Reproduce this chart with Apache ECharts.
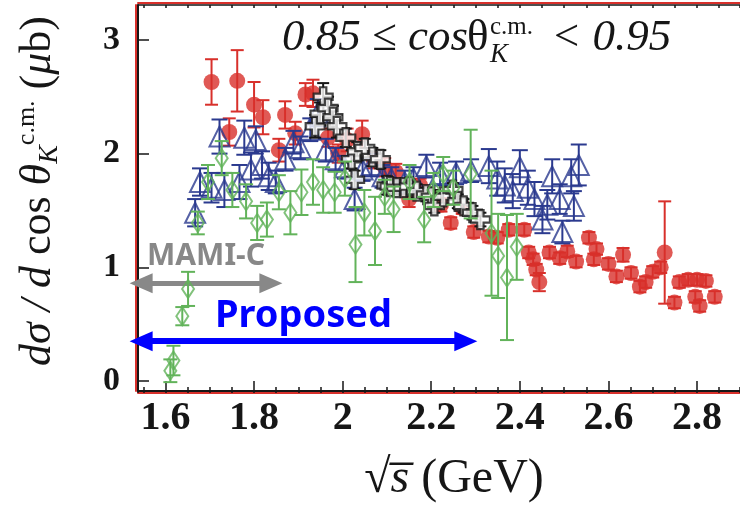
<!DOCTYPE html>
<html><head><meta charset="utf-8">
<script src="https://cdn.jsdelivr.net/npm/echarts@6/dist/echarts.min.js"></script>
<style>html,body{margin:0;background:#fff}#c{width:740px;height:508px}</style>
</head><body><div id="c"></div><script>
// ---- data ----
const xTickLabels = ['1.6','1.8','2','2.2','2.4','2.6','2.8'];
const yTickLabels = ['0','1','2','3'];
// [sqrt(s), dsigma, error]
const redPoints = [[1.704,2.63,0.2],[1.744,2.19,0.12],[1.762,2.64,0.27],[1.80,2.43,0.2],[1.82,2.32,0.15],[1.856,2.03,0.1],[1.87,2.34,0.12],[1.893,2.18,0.1],[1.916,2.52,0.1],[1.933,2.53,0.12],[1.967,2.14,0.08],[1.99,2.0,0.08],[2.01,2.12,0.1],[2.044,2.17,0.12],[2.07,1.95,0.08],[2.095,1.88,0.08],[2.12,1.84,0.07],[2.15,1.60,0.07],[2.175,1.72,0.06],[2.2,1.62,0.06],[2.222,1.55,0.06],[2.244,1.39,0.05],[2.27,1.52,0.05],[2.296,1.31,0.05],[2.33,1.27,0.05],[2.349,1.26,0.05],[2.375,1.33,0.05],[2.41,1.33,0.05],[2.42,1.13,0.05],[2.43,1.07,0.05],[2.437,0.98,0.05],[2.444,0.87,0.08],[2.467,1.13,0.05],[2.49,1.08,0.05],[2.507,1.14,0.05],[2.527,1.05,0.05],[2.556,1.26,0.05],[2.567,1.07,0.05],[2.573,1.16,0.05],[2.60,1.03,0.05],[2.618,0.92,0.05],[2.633,1.11,0.06],[2.651,0.95,0.05],[2.671,0.83,0.05],[2.684,0.87,0.05],[2.70,0.96,0.05],[2.718,1.0,0.05],[2.727,1.13,0.45],[2.749,0.69,0.05],[2.76,0.87,0.05],[2.78,0.89,0.05],[2.80,0.89,0.05],[2.796,0.74,0.05],[2.806,0.66,0.05],[2.82,0.88,0.05],[2.84,0.74,0.05]];
const bluePoints = [[1.667,1.48,0.12],[1.678,1.75,0.12],[1.704,1.70,0.13],[1.722,2.15,0.15],[1.733,1.68,0.15],[1.767,1.75,0.15],[1.778,2.14,0.15],[1.793,1.86,0.15],[1.804,2.12,0.12],[1.818,1.90,0.12],[1.833,1.80,0.12],[1.849,1.75,0.1],[1.871,1.95,0.1],[1.889,2.10,0.1],[1.905,2.05,0.1],[1.927,2.21,0.1],[1.944,2.36,0.12],[1.962,2.03,0.1],[1.984,1.95,0.1],[2.005,1.88,0.1],[2.027,1.60,0.1],[2.045,1.86,0.1],[2.065,1.90,0.1],[2.09,1.80,0.1],[2.11,1.78,0.1],[2.14,1.75,0.1],[2.16,1.78,0.1],[2.189,1.89,0.1],[2.22,1.82,0.1],[2.256,1.83,0.1],[2.29,1.85,0.1],[2.33,1.89,0.15],[2.349,1.78,0.15],[2.366,1.72,0.15],[2.384,1.67,0.15],[2.40,1.88,0.15],[2.418,1.70,0.15],[2.433,1.60,0.15],[2.451,1.42,0.12],[2.462,1.55,0.13],[2.473,1.80,0.15],[2.49,1.60,0.13],[2.496,1.31,0.1],[2.516,1.80,0.15],[2.522,1.54,0.13],[2.533,1.90,0.18]];
const blackPoints = [[1.938,2.24,0.1],[1.949,2.35,0.1],[1.956,2.50,0.12],[1.967,2.40,0.1],[1.978,2.32,0.1],[1.987,2.24,0.1],[2.007,2.14,0.08],[2.02,1.95,0.08],[2.027,1.77,0.08],[2.033,2.02,0.08],[2.05,2.05,0.08],[2.067,1.97,0.08],[2.085,1.95,0.08],[2.1,1.72,0.08],[2.107,1.71,0.06],[2.122,1.70,0.06],[2.138,1.70,0.06],[2.151,1.71,0.06],[2.167,1.67,0.06],[2.189,1.64,0.06],[2.20,1.62,0.06],[2.207,1.54,0.06],[2.227,1.62,0.06],[2.249,1.68,0.06],[2.26,1.58,0.06],[2.273,1.54,0.06],[2.293,1.48,0.06],[2.311,1.42,0.06]];
const greenPoints = [[1.611,0.09,0.1],[1.618,0.18,0.13],[1.638,0.57,0.08],[1.651,0.81,0.15],[1.673,1.39,0.1],[1.696,1.75,0.15],[1.727,1.96,0.15],[1.751,1.68,0.15],[1.782,1.58,0.15],[1.807,1.39,0.15],[1.829,1.42,0.15],[1.856,1.66,0.15],[1.882,1.48,0.19],[1.907,1.66,0.2],[1.933,1.75,0.2],[1.956,1.68,0.2],[1.982,1.66,0.18],[2.005,1.78,0.15],[2.029,1.20,0.33],[2.049,1.48,0.2],[2.073,1.32,0.3],[2.095,1.62,0.15],[2.115,1.51,0.2],[2.151,1.75,0.15],[2.184,1.42,0.2],[2.205,1.68,0.15],[2.227,1.82,0.15],[2.25,1.70,0.15],[2.289,1.82,0.39],[2.336,1.30,0.55],[2.351,1.10,0.37],[2.371,0.91,0.55],[2.393,1.18,0.29]];
// annotation ranges [from, to, y]
const mamiRange = [1.545, 1.838, 0.86];
const proposedRange = [1.545, 2.278, 0.35];

// ---- styles ----
const RED = '#d8302b', BLUE = '#2b3a8f', GREEN = '#62b35a', BLACK = '#161616';
const SERIF = '"Liberation Serif", "DejaVu Serif", serif';
const SANS = '"Noto Sans", "Open Sans", sans-serif';

function errSeries(points, color, cap, z) {
  return {
    type: 'custom', z: z, silent: true, animation: false, clip: false,
    data: points.map(p => [p[0], p[1] - p[2], p[1] + p[2]]),
    encode: { x: 0, y: [1, 2] },
    renderItem: function (params, api) {
      const x = api.value(0), lo = api.value(1), hi = api.value(2);
      const a = api.coord([x, hi]), b = api.coord([x, lo]);
      const st = { stroke: color, lineWidth: 2 };
      return { type: 'group', children: [
        { type: 'line', shape: { x1: a[0], y1: a[1], x2: b[0], y2: b[1] }, style: st },
        { type: 'line', shape: { x1: a[0] - cap, y1: a[1], x2: a[0] + cap, y2: a[1] }, style: st },
        { type: 'line', shape: { x1: b[0] - cap, y1: b[1], x2: b[0] + cap, y2: b[1] }, style: st }
      ]};
    }
  };
}
function ptSeries(points, symbol, size, itemStyle, z) {
  return { type: 'scatter', z: z, silent: true, animation: false,
    data: points.map(p => [p[0], p[1]]), symbol: symbol, symbolSize: size, itemStyle: itemStyle };
}
const crossPath = 'path://M-1,-3L1,-3L1,-1L3,-1L3,1L1,1L1,3L-1,3L-1,1L-3,1L-3,-1L-1,-1Z';

const xMin = 1.538, xMax = 2.897, yMin = -0.088, yMax = 3.307;
const xLabelFmt = v => { const r = Math.round(v * 10) / 10; const t = String(r); return (Math.abs(v - r) < 1e-6 && xTickLabels.includes(t)) ? t : ''; };
const yLabelFmt = v => { const t = String(Math.round(v * 1000) / 1000); return yTickLabels.includes(t) ? t : ''; };

const chart = echarts.init(document.getElementById('c'), null, { renderer: 'canvas' });
chart.setOption({
  animation: false,
  backgroundColor: '#fff',
  grid: { left: 125, right: 0, top: 5, bottom: 116, containLabel: false },
  xAxis: [
    { type: 'value', position: 'bottom', min: xMin, max: xMax, minInterval: 0.2, maxInterval: 0.2,
      splitLine: { show: false },
      axisLine: { show: true, onZero: false, lineStyle: { color: BLACK, width: 2 } },
      axisTick: { show: true, inside: true, length: 10, lineStyle: { color: BLACK, width: 1.5 } },
      axisLabel: { formatter: xLabelFmt, margin: 8, color: BLACK, fontFamily: SERIF, fontWeight: 'bold', fontSize: 40,
        showMinLabel: false, showMaxLabel: false },
      name: '{r|√}{i|s\u0305}{r| (GeV)}', nameLocation: 'middle', nameGap: 64,
      nameTextStyle: { color: BLACK, padding: [0, 0, 0, 30], rich: {
        r: { fontFamily: SERIF, fontSize: 48, color: BLACK },
        i: { fontFamily: SERIF, fontStyle: 'italic', fontSize: 48, color: BLACK }
      } } },
    { type: 'value', position: 'bottom', offset: 2, min: xMin, max: xMax, minInterval: 0.05, maxInterval: 0.05,
      splitLine: { show: false },
      axisLine: { show: true, onZero: false, lineStyle: { color: RED, width: 2 } },
      axisTick: { show: true, inside: true, length: 6, lineStyle: { color: BLACK, width: 1.5 } },
      axisLabel: { show: false } },
    { type: 'value', position: 'top', min: xMin, max: xMax, minInterval: 0.05, maxInterval: 0.05,
      splitLine: { show: false },
      axisLine: { show: true, onZero: false, lineStyle: { color: BLACK, width: 1.5 } },
      axisTick: { show: true, inside: true, length: 3, lineStyle: { color: BLACK, width: 1.5 } },
      axisLabel: { show: false } },
    { type: 'value', position: 'top', offset: 2, min: xMin, max: xMax,
      splitLine: { show: false },
      axisLine: { show: true, onZero: false, lineStyle: { color: RED, width: 2 } },
      axisTick: { show: false }, axisLabel: { show: false } }
  ],
  yAxis: [
    { type: 'value', position: 'left', min: yMin, max: yMax, minInterval: 1, maxInterval: 1,
      splitLine: { show: false },
      axisLine: { show: true, onZero: false, lineStyle: { color: BLACK, width: 2 } },
      axisTick: { show: true, inside: true, length: 11, lineStyle: { color: BLACK, width: 1.5 } },
      axisLabel: { formatter: yLabelFmt, margin: 18, color: BLACK, fontFamily: SERIF, fontWeight: 'bold', fontSize: 34,
        showMinLabel: false, showMaxLabel: false },
      name: '{i|dσ / d}{r| cos }{i|θ}{k|K}{s|c.m.}{r| (}{i|μ}{r|b)}',
      nameLocation: 'middle', nameRotate: 90, nameGap: 70,
      nameTextStyle: { color: BLACK, padding: [0, 0, 0, 14], rich: {
        i: { fontFamily: SERIF, fontStyle: 'italic', fontSize: 44, lineHeight: 60, color: BLACK },
        r: { fontFamily: SERIF, fontSize: 44, lineHeight: 60, color: BLACK },
        k: { fontFamily: SERIF, fontStyle: 'italic', fontSize: 28, lineHeight: 60, verticalAlign: 'bottom', padding: [0, 0, 4, 0], color: BLACK },
        s: { fontFamily: SERIF, fontSize: 26, lineHeight: 60, verticalAlign: 'top', padding: [6, 0, 0, 0], color: BLACK }
      } } },
    { type: 'value', position: 'left', offset: 2, min: yMin, max: yMax,
      splitLine: { show: false },
      axisLine: { show: true, onZero: false, lineStyle: { color: RED, width: 2 } },
      axisTick: { show: false }, axisLabel: { show: false } }
  ],
  graphic: [
    { type: 'text', x: 282, y: 38, style: { text: '0.85 ≤ cos', font: 'italic 45px ' + SERIF, fill: BLACK, verticalAlign: 'middle' } },
    { type: 'text', x: 467, y: 38, style: { text: 'θ', font: '45px ' + SERIF, fill: BLACK, verticalAlign: 'middle' } },
    { type: 'text', x: 490, y: 27, style: { text: 'c.m.', font: '25px ' + SERIF, fill: BLACK, verticalAlign: 'middle' } },
    { type: 'text', x: 490, y: 55, style: { text: 'K', font: 'italic 27px ' + SERIF, fill: BLACK, verticalAlign: 'middle' } },
    { type: 'text', x: 551, y: 38, style: { text: '< 0.95', font: 'italic 45px ' + SERIF, fill: BLACK, verticalAlign: 'middle' } }
  ],
  series: [
    errSeries(redPoints, RED, 6.5, 2),
    ptSeries(redPoints, 'circle', 16, { color: RED }, 3),
    errSeries(bluePoints, BLUE, 8, 4),
    ptSeries(bluePoints, 'triangle', 20, { color: 'rgba(0,0,0,0)', borderColor: BLUE, borderWidth: 2 }, 5),
    errSeries(blackPoints, BLACK, 6, 6),
    ptSeries(blackPoints, crossPath, 19, { color: '#fff', borderColor: BLACK, borderWidth: 2.2 }, 7),
    errSeries(greenPoints, GREEN, 7, 8),
    ptSeries(greenPoints, 'diamond', [12, 18], { color: 'rgba(0,0,0,0)', borderColor: GREEN, borderWidth: 2 }, 9),
    { type: 'scatter', data: [], z: 10, silent: true, animation: false,
      markLine: { silent: true, animation: false, symbol: ['triangle', 'triangle'], symbolSize: [20, 23],
        data: [
          [ { coord: [mamiRange[0], mamiRange[2]], lineStyle: { color: '#888888', width: 5, type: 'solid' },
              label: { show: true, formatter: 'MAMI-C', position: 'insideMiddleTop', distance: 12, color: '#888888',
                fontFamily: SANS, fontWeight: 'bold', fontSize: 30 } },
            { coord: [mamiRange[1], mamiRange[2]] } ],
          [ { coord: [proposedRange[0], proposedRange[2]], lineStyle: { color: '#0000ff', width: 6, type: 'solid' },
              label: { show: true, formatter: 'Proposed', position: 'insideMiddleTop', distance: 6, color: '#0000ff',
                fontFamily: SANS, fontWeight: 'bold', fontSize: 38 } },
            { coord: [proposedRange[1], proposedRange[2]] } ]
        ] } }
  ]
});
</script></body></html>
